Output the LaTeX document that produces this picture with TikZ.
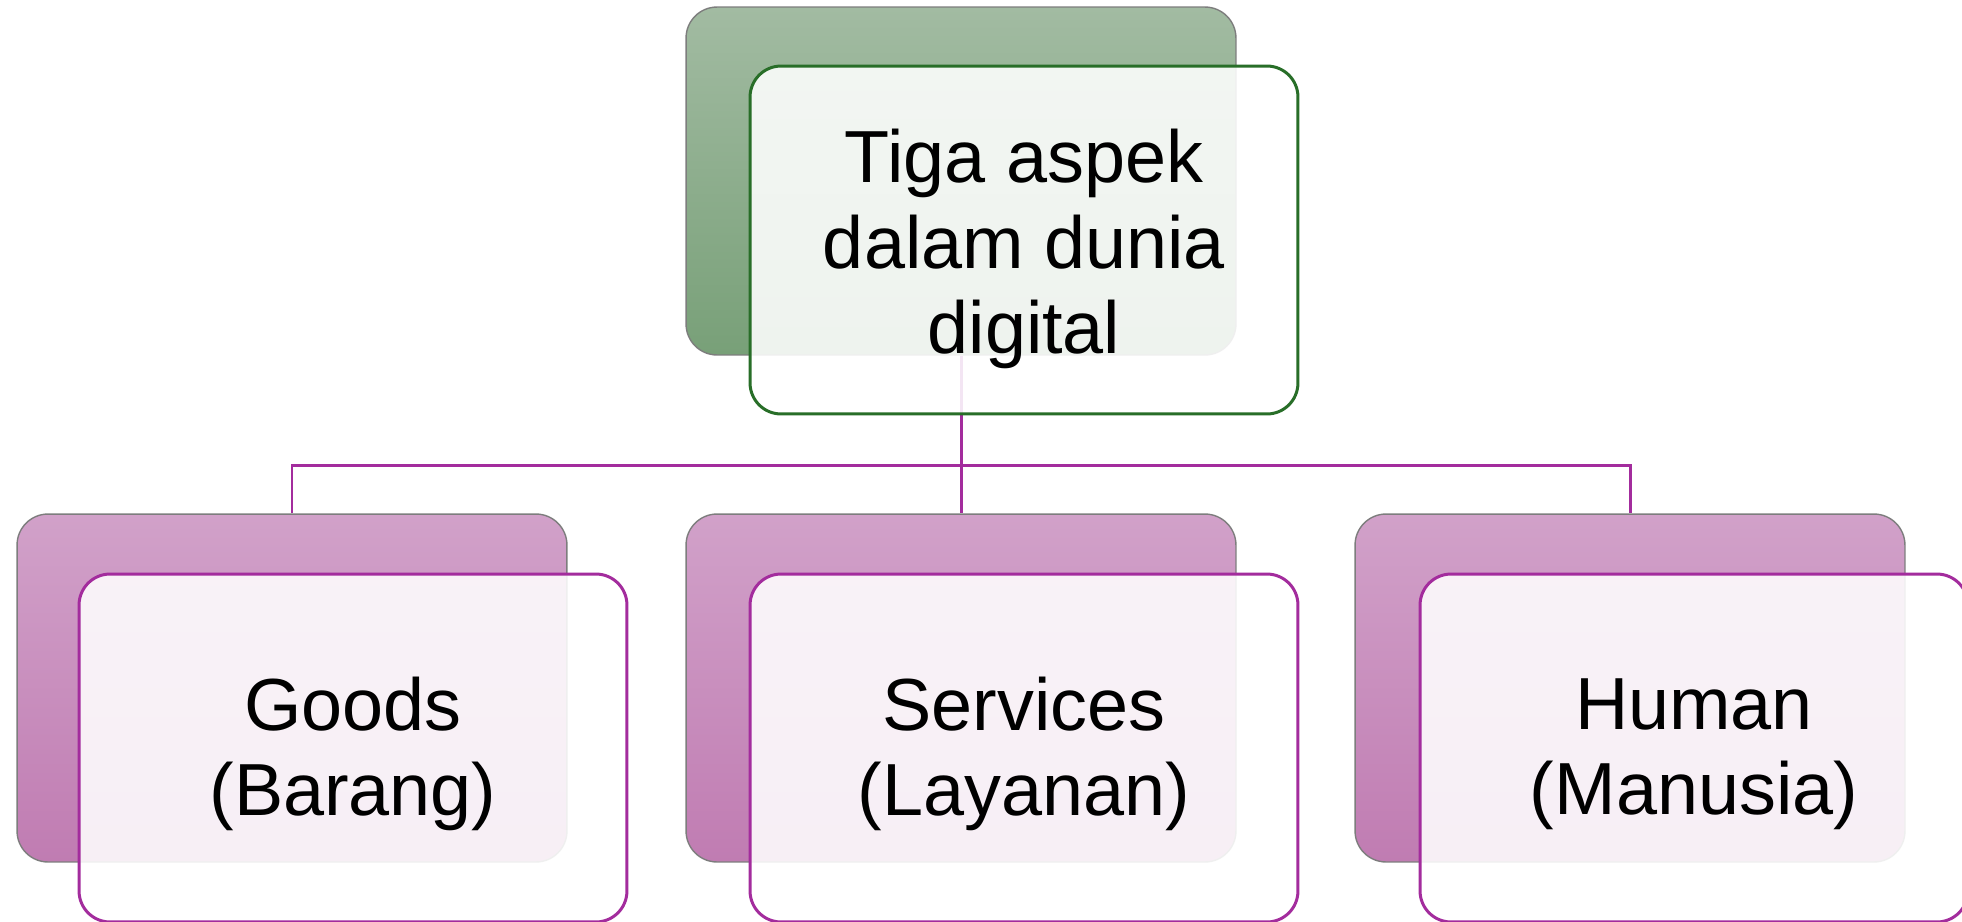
\documentclass[tikz,border=0pt]{standalone}
\usepackage{fontspec}
\setmainfont{Liberation Sans}
\definecolor{gtop}{RGB}{162,187,162}
\definecolor{gbot}{RGB}{120,160,120}
\definecolor{ptop}{RGB}{209,161,201}
\definecolor{pbot}{RGB}{192,124,178}
\definecolor{gline}{RGB}{40,110,40}
\definecolor{pline}{RGB}{163,44,157}
\definecolor{backline}{RGB}{125,125,125}
\tikzset{
  backbox/.style={draw=backline, line width=0.8pt, rounded corners=0.62cm,
    minimum width=11cm, minimum height=6.96cm, inner sep=0pt},
  greenback/.style={backbox, top color=gtop, bottom color=gbot},
  purpleback/.style={backbox, top color=ptop, bottom color=pbot},
  frontbox/.style={line width=1.7pt, rounded corners=0.62cm,
    minimum width=10.96cm, minimum height=6.96cm, inner sep=0pt,
    fill=white, fill opacity=0.88},
  greenfront/.style={frontbox, draw=gline},
  purplefront/.style={frontbox, draw=pline},
  boxtext/.style={align=center, inner sep=0pt,
    font=\fontsize{42}{48.5}\selectfont},
  conn/.style={draw=pline, line width=1.7pt}
}
\begin{document}
\begin{tikzpicture}[x=0.02cm,y=-0.02cm]
\clip (0,0) rectangle (1962,921);
\fill[white] (0,0) rectangle (1962,921);
% back boxes
\node[greenback] (tb) at (961,181) {};
\node[purpleback] (lb) at (292,688) {};
\node[purpleback] (mb) at (961,688) {};
\node[purpleback] (rb) at (1630,688) {};
% connectors
\coordinate (bus) at (961,465.5);
\draw[conn] (tb.south) -- (bus);
\draw[conn] (lb.north) |- (bus) -| (rb.north);
\draw[conn] (bus) -- (mb.north);
% front boxes
\node[greenfront] (tf) at (1024,240) {};
\node[purplefront] (lf) at (353,748) {};
\node[purplefront] (mf) at (1024,748) {};
\node[purplefront] (rf) at (1694,748) {};
% texts
\node[boxtext] (tft) at ([yshift=-0.18cm]tf.center) {Tiga aspek\\dalam dunia\\digital};
\node[boxtext] (lft) at ([yshift=-0.12cm]lf.center) {Goods\\(Barang)};
\node[boxtext] (mft) at ([yshift=-0.12cm]mf.center) {Services\\(Layanan)};
\node[boxtext] (rft) at ([yshift=-0.12cm]rf.center) {Human\\(Manusia)};
\end{tikzpicture}
\end{document}
